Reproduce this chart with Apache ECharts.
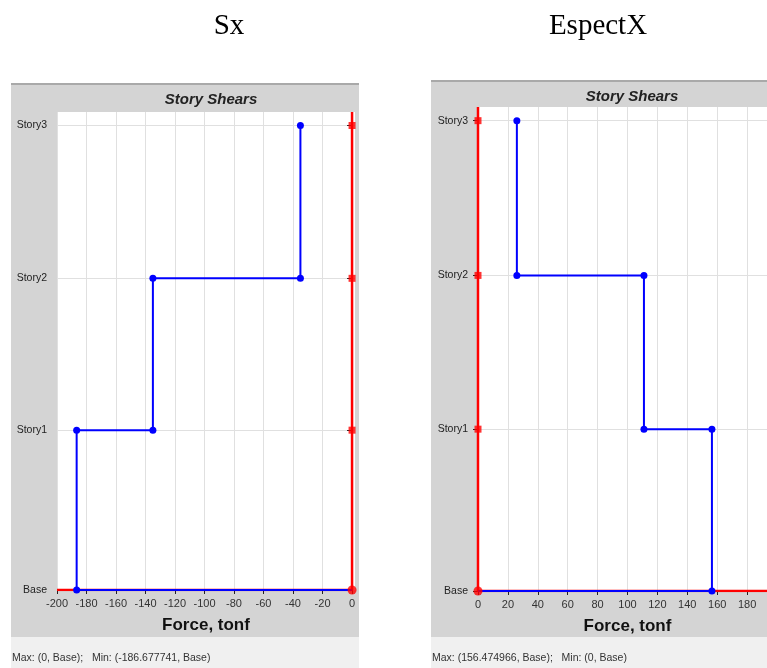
<!DOCTYPE html>
<html>
<head>
<meta charset="utf-8">
<script src="https://cdn.jsdelivr.net/npm/echarts@6/dist/echarts.min.js"></script>
<style>
  html, body { margin: 0; padding: 0; background: #fff; }
  #chart { width: 767px; height: 668px; }
</style>
</head>
<body>
<div id="chart"></div>
<script>
// Story levels and their elevations (m)
const stories = ['Base', 'Story1', 'Story2', 'Story3'];
const storyElev = [0, 3.2, 6.24, 9.3];
const elevTop = 9.57;

// Story shear per story (Story1..Story3), tonf
const sxShear = [-186.677741, -135, -35];
const espectXShear = [156.474966, 111, 26];

// Force axis tick labels
const sxTicks = [-200, -180, -160, -140, -120, -100, -80, -60, -40, -20, 0];
const espectXTicks = [0, 20, 40, 60, 80, 100, 120, 140, 160, 180, 200];

const caseNames = ['Sx', 'EspectX'];
const statusLines = [
  'Max: (0, Base);   Min: (-186.677741, Base)',
  'Max: (156.474966, Base);   Min: (0, Base)'
];

// Stepped shear profile, from the top story down to the base
function stepProfile(shear) {
  const pts = [];
  for (let i = shear.length; i >= 1; i--) {
    pts.push([shear[i - 1], storyElev[i]]);
    pts.push([shear[i - 1], storyElev[i - 1]]);
  }
  pts.push([0, storyElev[0]]);
  return pts;
}
// Zero line of the perpendicular component, running along the base to the axis edge
function zeroProfile(edge) {
  const pts = [[0, elevTop]];
  for (let i = storyElev.length - 1; i >= 0; i--) pts.push([0, storyElev[i]]);
  pts.push([edge, storyElev[0]]);
  return pts;
}
function zeroMarkers() {
  return storyElev.map((e, i) => ({
    value: [0, e],
    symbol: i === 0 ? 'circle' : 'rect',
    symbolSize: i === 0 ? 9 : 7
  }));
}

const labelFont = 'Arial, "Liberation Sans", sans-serif';
const captionFont = '"Liberation Serif", "Times New Roman", serif';
const storyName = v => {
  const i = storyElev.findIndex(e => Math.abs(e - v) < 1e-6);
  return i >= 0 ? stories[i] : '';
};

function xAxisFor(gridIndex, ticks, min, max) {
  return {
    type: 'value', gridIndex, min, max,
    axisLine: { show: true, lineStyle: { color: 'rgba(0,0,0,0)' } },
    axisTick: { show: true, length: 4, customValues: ticks, lineStyle: { color: '#222', width: 1 } },
    axisLabel: { customValues: ticks, margin: 8, fontSize: 11, color: '#333', fontFamily: labelFont },
    splitLine: { show: true, lineStyle: { color: '#e0e0e0', width: 1 } },
    name: 'Force, tonf', nameLocation: 'middle', nameGap: 27,
    nameTextStyle: { fontSize: 17, fontWeight: 'bold', color: '#111', fontFamily: labelFont }
  };
}
function yAxisFor(gridIndex) {
  return {
    type: 'value', gridIndex, min: 0, max: elevTop,
    axisLine: { show: true, lineStyle: { color: 'rgba(0,0,0,0)' } },
    axisTick: { show: true, length: 5, customValues: storyElev, lineStyle: { color: '#222', width: 1 } },
    axisLabel: { customValues: storyElev, formatter: storyName, margin: 10, fontSize: 10.5, color: '#222', fontFamily: labelFont },
    splitLine: { show: true, lineStyle: { color: '#e0e0e0', width: 1 } }
  };
}

function seriesFor(idx, shear, edge) {
  return [
    {
      type: 'line', xAxisIndex: idx, yAxisIndex: idx, zlevel: 1, z: 1,
      data: zeroProfile(edge), showSymbol: false, symbol: 'none',
      lineStyle: { color: '#ff0000', width: 2.5 }, animation: false
    },
    {
      type: 'line', xAxisIndex: idx, yAxisIndex: idx, zlevel: 2, z: 1,
      data: stepProfile(shear).map((p, k, arr) => ({
        value: p, symbol: k === arr.length - 1 ? 'none' : 'circle'
      })),
      symbolSize: 7, itemStyle: { color: '#0000ff' },
      lineStyle: { color: '#0000ff', width: 2 }, animation: false
    },
    {
      type: 'scatter', xAxisIndex: idx, yAxisIndex: idx, zlevel: 3, z: 1,
      data: zeroMarkers(), itemStyle: { color: '#ff0000' }, animation: false
    }
  ];
}

const chart = echarts.init(document.getElementById('chart'), null, { renderer: 'canvas' });

const panelGray = '#d4d4d4';
const statusGray = '#f0f0f0';

chart.setOption({
  backgroundColor: '#ffffff',
  animation: false,
  title: [
    { text: caseNames[0], left: 224, top: 7, textAlign: 'center',
      textStyle: { fontFamily: captionFont, fontSize: 29, fontWeight: 'normal', color: '#000' } },
    { text: caseNames[1], left: 593, top: 7, textAlign: 'center',
      textStyle: { fontFamily: captionFont, fontSize: 29, fontWeight: 'normal', color: '#000' } },
    { text: 'Story Shears', left: 206, top: 87, textAlign: 'center',
      textStyle: { fontFamily: labelFont, fontSize: 15, fontWeight: 'bold', fontStyle: 'italic', color: '#222' } },
    { text: 'Story Shears', left: 627, top: 84, textAlign: 'center',
      textStyle: { fontFamily: labelFont, fontSize: 15, fontWeight: 'bold', fontStyle: 'italic', color: '#222' } }
  ],
  graphic: [
    { type: 'rect', z: -10, shape: { x: 11, y: 84, width: 348, height: 553 }, style: { fill: panelGray } },
    { type: 'rect', z: -9, shape: { x: 11, y: 83, width: 348, height: 2 }, style: { fill: '#a9a9a9' } },
    { type: 'rect', z: -10, shape: { x: 11, y: 637, width: 348, height: 31 }, style: { fill: statusGray } },
    { type: 'text', z: 5, x: 12, y: 653, style: { text: statusLines[0], fontSize: 10.5, fontFamily: labelFont, fill: '#333' } },
    { type: 'rect', z: -10, shape: { x: 431, y: 81, width: 336, height: 556 }, style: { fill: panelGray } },
    { type: 'rect', z: -9, shape: { x: 431, y: 80, width: 336, height: 2 }, style: { fill: '#a9a9a9' } },
    { type: 'rect', z: -10, shape: { x: 431, y: 637, width: 336, height: 31 }, style: { fill: statusGray } },
    { type: 'text', z: 5, x: 432, y: 653, style: { text: statusLines[1], fontSize: 10.5, fontFamily: labelFont, fill: '#333' } }
  ],
  grid: [
    { left: 57, right: 412, top: 112, bottom: 78, outerBoundsMode: 'none',
      show: true, backgroundColor: '#ffffff', borderWidth: 0 },
    { left: 478, width: 299, top: 107, bottom: 77, outerBoundsMode: 'none',
      show: true, backgroundColor: '#ffffff', borderWidth: 0 }
  ],
  xAxis: [
    xAxisFor(0, sxTicks, sxTicks[0], 2),
    xAxisFor(1, espectXTicks, espectXTicks[0], espectXTicks[espectXTicks.length - 1])
  ],
  yAxis: [yAxisFor(0), yAxisFor(1)],
  series: [
    ...seriesFor(0, sxShear, sxTicks[0]),
    ...seriesFor(1, espectXShear, espectXTicks[espectXTicks.length - 1])
  ]
});
</script>
</body>
</html>
